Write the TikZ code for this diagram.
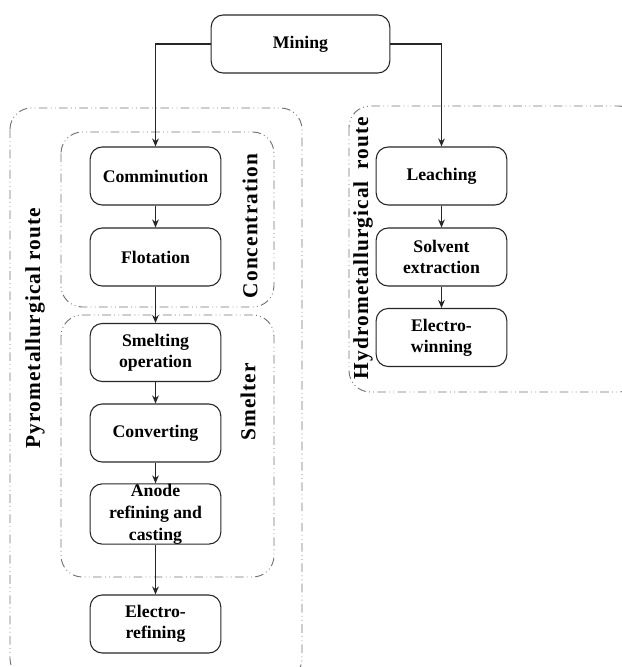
\documentclass[tikz,border=0pt]{standalone}
\usepackage{fontspec}
\setmainfont{Liberation Serif}
\newfontfamily\labfont[LetterSpace=5]{Liberation Serif}
\usetikzlibrary{arrows.meta}
\begin{document}
\begin{tikzpicture}[x=0.75pt,y=-0.75pt,
  proc/.style={draw=black!85, line width=0.8pt, rounded corners=9pt, minimum width=98pt, minimum height=43.5pt, inner sep=0pt, align=center, font=\bfseries\fontsize{13.3}{16}\selectfont},
  grp/.style={draw=black!55, line width=0.7pt, rounded corners=16pt, dash pattern=on 6.5pt off 2.5pt on 0.6pt off 2.5pt on 0.6pt off 2.5pt},
  lab/.style={font=\labfont\bfseries\fontsize{16}{18}\selectfont, rotate=90},
  arr/.style={-{Stealth[length=6pt,width=5pt]}, line width=0.8pt, black!85}]
\useasboundingbox (0,0) rectangle (621,667);
% containers
\draw[grp] (10,108) rectangle (302,680);
\draw[grp] (61,132) rectangle (274,307);
\draw[grp] (61,315) rectangle (274,577);
\draw[grp] (349,106) rectangle (640,392);
% labels
\node[lab] (pyro) at (35,328) {Pyrometallurgical route};
\node[lab] (conc) at (250,226) {Concentration};
\node[lab] (smel) at (248,402) {Smelter};
\node[lab] (hydro) at (363,248) {Hydrometallurgical\hspace{4pt} route};
% boxes
\node[proc, minimum width=134pt] (mining) at (300.5,44) {Mining};
\node[proc] (comm) at (155.5,176) {Comminution};
\node[proc] (flot) at (155.5,257) {Flotation};
\node[proc] (smelt) at (155.5,352.5) {Smelting\\[-0.5pt]operation};
\node[proc] (conv) at (155.5,433) {Converting};
\node[proc, font=\bfseries\fontsize{13.3}{16.5}\selectfont] (anode) at (155.5,514) {Anode\\refining and\\casting};
\node[proc] (eref) at (155.5,624) {Electro-\\[-0.5pt]refining};
\node[proc] (leach) at (441.5,176) {Leaching};
\node[proc] (solv) at (441.5,257) {Solvent\\[-0.5pt]extraction};
\node[proc] (ewin) at (441.5,337.5) {Electro-\\[-0.5pt]winning};
% connectors
\draw[arr] (mining.west) -| (comm.north);
\draw[arr] (mining.east) -| (leach.north);
\draw[arr] (comm) -- (flot);
\draw[arr] (flot) -- (smelt);
\draw[arr] (smelt) -- (conv);
\draw[arr] (conv) -- (anode);
\draw[arr] (anode) -- (eref);
\draw[arr] (leach) -- (solv);
\draw[arr] (solv) -- (ewin);
\end{tikzpicture}
\end{document}
